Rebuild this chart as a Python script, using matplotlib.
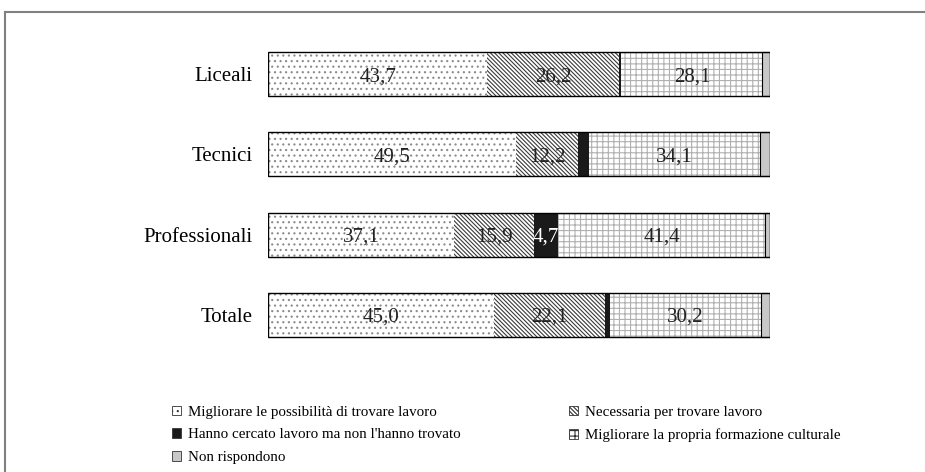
import numpy as np
import matplotlib
matplotlib.use("Agg")
import matplotlib.pyplot as plt
from matplotlib.patches import Patch
from matplotlib.lines import Line2D

# dati (percentuali)
categorie = ["Liceali", "Tecnici", "Professionali", "Totale"]
migliorare_lavoro = [43.7, 49.5, 37.1, 45.0]
necessaria = [26.2, 12.2, 15.9, 22.1]
cercato_lavoro = [0.5, 2.2, 4.7, 1.0]
formazione = [28.1, 34.1, 41.4, 30.2]
non_rispondono = [1.5, 2.0, 0.9, 1.7]

serie_nomi = ["Migliorare le possibilità di trovare lavoro",
              "Necessaria per trovare lavoro",
              "Hanno cercato lavoro ma non l'hanno trovato",
              "Migliorare la propria formazione culturale",
              "Non rispondono"]
# quali serie hanno l'etichetta del valore
etichette_serie = [True, True, False, True, False]

plt.rcParams['font.family'] = ['Liberation Serif', 'DejaVu Serif']
plt.rcParams['hatch.linewidth'] = 0.8

serie = [migliorare_lavoro, necessaria, cercato_lavoro, formazione, non_rispondono]
# stile: (colore di fondo, colore tratteggio, tratteggio, spessore bordo)
stili = [("white", "#8a8a8a", "...", 0),
         ("white", "#3a3a3a", "\\\\\\\\\\\\\\\\", 0),
         ("#1a1a1a", "#1a1a1a", None, 0),
         ("white", "#b0b0b0", "+++", 0),
         ("#c8c8c8", "black", None, 0.8)]

fig = plt.figure(figsize=(9.25, 4.72), dpi=100)
ax = fig.add_axes([268/925, 1 - 355/472, (770 - 268)/925, (355 - 34)/472])

y = np.arange(len(categorie))
altezza = 0.55
sinistra = np.zeros(len(categorie))
for k, vals in enumerate(serie):
    fondo, col_tratt, tratt, lw = stili[k]
    ax.barh(y, vals, left=sinistra, height=altezza, color=fondo,
            edgecolor=col_tratt, hatch=tratt, linewidth=lw)
    if etichette_serie[k]:
        for i, v in enumerate(vals):
            ax.text(sinistra[i] + v/2, y[i], f"{v:.1f}".replace(".", ","),
                    ha="center", va="center_baseline", fontsize=15, color="#222222")
    sinistra = sinistra + np.array(vals)

# etichetta per il valore piu' grande della serie nera (Professionali)
i_max = int(np.argmax(cercato_lavoro))
x_nero = migliorare_lavoro[i_max] + necessaria[i_max] + cercato_lavoro[i_max]/2
ax.text(x_nero, y[i_max], f"{cercato_lavoro[i_max]:.1f}".replace(".", ","),
        ha="center", va="center_baseline", fontsize=15, color="white")

# contorno di ogni barra
ax.barh(y, sinistra, height=altezza, fill=False, edgecolor="black", linewidth=1.0)

ax.set_xlim(0, sinistra.max())
ax.set_ylim(3.5, -0.5)
ax.set_yticks(y)
ax.set_yticklabels(categorie, fontsize=15)
ax.tick_params(axis="y", length=0, pad=11)
ax.set_xticks([])
for s in ax.spines.values():
    s.set_visible(False)

# legenda
maniglie = []
for k in range(5):
    fondo, col_tratt, tratt, lw = stili[k]
    maniglie.append(Patch(facecolor=fondo if k != 4 else "#c8c8c8",
                          edgecolor="#333333", hatch=tratt,
                          linewidth=0.6, label=serie_nomi[k]))
ordine = [0, 2, 4, 1, 3]
fig.legend([maniglie[i] for i in ordine], [serie_nomi[i] for i in ordine],
           loc="upper left", bbox_to_anchor=(164/925, 1 - 398/472), ncol=2,
           frameon=False, fontsize=10.8, handlelength=0.6, handleheight=0.6,
           handletextpad=0.5, labelspacing=0.65, columnspacing=7.2, borderpad=0)

# cornice grigia
fig.add_artist(Line2D([5/925, 1], [1 - 12/472, 1 - 12/472], color="#808080", linewidth=1.5))
fig.add_artist(Line2D([5/925, 5/925], [0, 1 - 12/472], color="#808080", linewidth=1.5))

fig.savefig("out.png", dpi=100)
